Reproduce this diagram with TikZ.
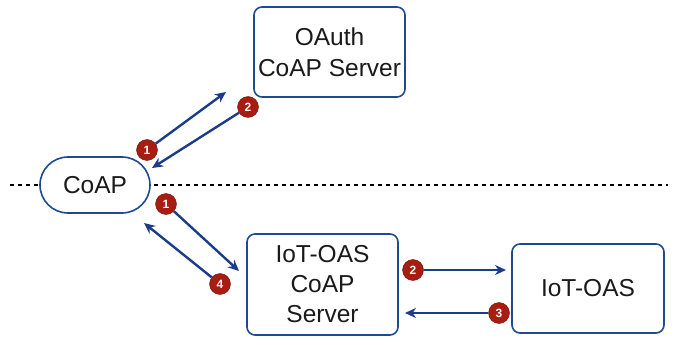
\documentclass[tikz,border=0pt]{standalone}
\usepackage{fontspec}
\setmainfont{Liberation Sans}
\usetikzlibrary{arrows.meta}
\definecolor{boxblue}{HTML}{1F4A8F}
\definecolor{arrblue}{HTML}{1B3C88}
\definecolor{badgered}{HTML}{A71D12}
\definecolor{txt}{HTML}{1A1A1A}
\tikzset{
  box/.style={draw=boxblue, line width=1.6pt, rounded corners=8pt, align=center,
    font=\fontsize{24.5}{30}\selectfont, text=txt, inner sep=0pt},
  arr/.style={draw=arrblue, line width=2.4pt, -{Stealth[length=11pt,width=10pt]}},
  badge/.style={circle, fill=badgered, draw=badgered!70!black, line width=0.4pt,
    minimum size=21pt, inner sep=0pt, text=white, font=\bfseries\fontsize{12}{12}\selectfont},
}
\begin{document}
\begin{tikzpicture}[x=1pt,y=-1pt]
\useasboundingbox (0,0) rectangle (678,345);
% dashed separator
\draw[line width=1.6pt, dash pattern=on 4pt off 4pt] (10,185) -- (668,185);
% nodes
\node[box, minimum width=151pt, minimum height=90pt] (oauth) at (329.5,52) {OAuth\\[1pt]CoAP Server};
\node[box, rounded corners=28pt, minimum width=110pt, minimum height=56pt, fill=white] (coap) at (95,185) {CoAP};
\node[box, minimum width=151pt, minimum height=101pt, fill=white] (srv) at (322.5,284.5) {IoT-OAS\\CoAP\\Server};
\node[box, minimum width=152pt, minimum height=89pt] (oas) at (588,288.5) {IoT-OAS};
% badges
\node[badge] (b1u) at (147,150) {1};
\node[badge] (b2u) at (248,107) {2};
\node[badge] (b1l) at (166,204) {1};
\node[badge] (b4l) at (220,284) {4};
\node[badge] (b2r) at (413,270) {2};
\node[badge] (b3r) at (499,313) {3};
% arrow end points
\coordinate (t1u) at (226,92);
\coordinate (t2u) at (152,168);
\coordinate (t1l) at (239,271);
\coordinate (t4l) at (144,223);
\coordinate (t2r) at (506,270);
\coordinate (t3r) at (405,313);
% arrows
\draw[arr] (b1u) -- (t1u);
\draw[arr] (b2u) -- (t2u);
\draw[arr] (b1l) -- (t1l);
\draw[arr] (b4l) -- (t4l);
\draw[arr] (b2r) -- (t2r);
\draw[arr] (b3r) -- (t3r);
\end{tikzpicture}
\end{document}
